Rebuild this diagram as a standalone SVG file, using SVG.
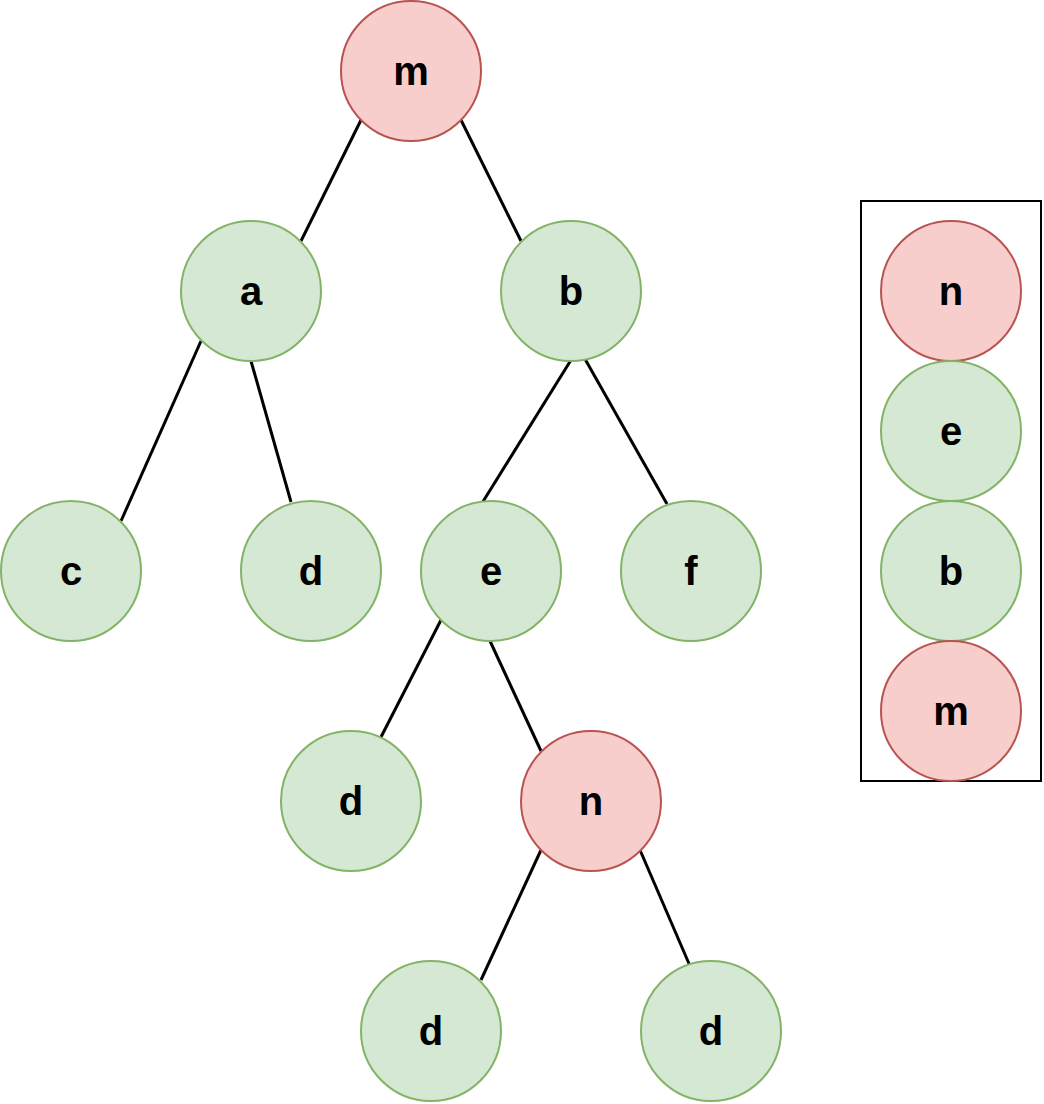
<svg xmlns="http://www.w3.org/2000/svg" width="1044" height="1104" viewBox="0 0 1044 1104">
<style>
.g{fill:#d5e8d4;stroke:#82b366;stroke-width:2}
.r{fill:#f8cecc;stroke:#b85450;stroke-width:2}
.t{font-family:"Liberation Sans",Arial,sans-serif;font-weight:bold;font-size:40px;text-anchor:middle;fill:#000}
.e{stroke:#000;stroke-width:3;fill:none}
</style>
<rect width="1044" height="1104" fill="#fff"/>
<g id="connectors">
<line class="e" x1="361" y1="120" x2="301" y2="241"/>
<line class="e" x1="461" y1="120" x2="521" y2="241"/>
<line class="e" x1="201" y1="341" x2="121" y2="521"/>
<line class="e" x1="251" y1="361" x2="291" y2="502"/>
<line class="e" x1="571" y1="360" x2="479" y2="508"/>
<line class="e" x1="585" y1="359" x2="667" y2="504"/>
<line class="e" x1="441" y1="620" x2="381" y2="737"/>
<line class="e" x1="490" y1="641" x2="541" y2="751"/>
<line class="e" x1="541" y1="850" x2="481" y2="980"/>
<line class="e" x1="640" y1="850" x2="690" y2="966"/>
</g>
<g id="node-m"><circle class="r" cx="411" cy="71" r="70"/><text class="t" x="411" y="85">m</text></g>
<g id="node-a"><circle class="g" cx="251" cy="291" r="70"/><text class="t" x="251" y="305">a</text></g>
<g id="node-b"><circle class="g" cx="571" cy="291" r="70"/><text class="t" x="571" y="305">b</text></g>
<g id="node-c"><circle class="g" cx="71" cy="571" r="70"/><text class="t" x="71" y="585">c</text></g>
<g id="node-d1"><circle class="g" cx="311" cy="571" r="70"/><text class="t" x="311" y="585">d</text></g>
<g id="node-e"><circle class="g" cx="491" cy="571" r="70"/><text class="t" x="491" y="585">e</text></g>
<g id="node-f"><circle class="g" cx="691" cy="571" r="70"/><text class="t" x="691" y="585">f</text></g>
<g id="node-d2"><circle class="g" cx="351" cy="801" r="70"/><text class="t" x="351" y="815">d</text></g>
<g id="node-n"><circle class="r" cx="591" cy="801" r="70"/><text class="t" x="591" y="815">n</text></g>
<g id="node-d3"><circle class="g" cx="431" cy="1031" r="70"/><text class="t" x="431" y="1045">d</text></g>
<g id="node-d4"><circle class="g" cx="711" cy="1031" r="70"/><text class="t" x="711" y="1045">d</text></g>
<g id="stack">
<rect x="861" y="201" width="180" height="580" fill="#fff" stroke="#000" stroke-width="2"/>
</g>
<g id="stack-n"><circle class="r" cx="951" cy="291" r="70"/><text class="t" x="951" y="305">n</text></g>
<g id="stack-e"><circle class="g" cx="951" cy="431" r="70"/><text class="t" x="951" y="445">e</text></g>
<g id="stack-b"><circle class="g" cx="951" cy="571" r="70"/><text class="t" x="951" y="585">b</text></g>
<g id="stack-m"><circle class="r" cx="951" cy="711" r="70"/><text class="t" x="951" y="725">m</text></g>
</svg>
